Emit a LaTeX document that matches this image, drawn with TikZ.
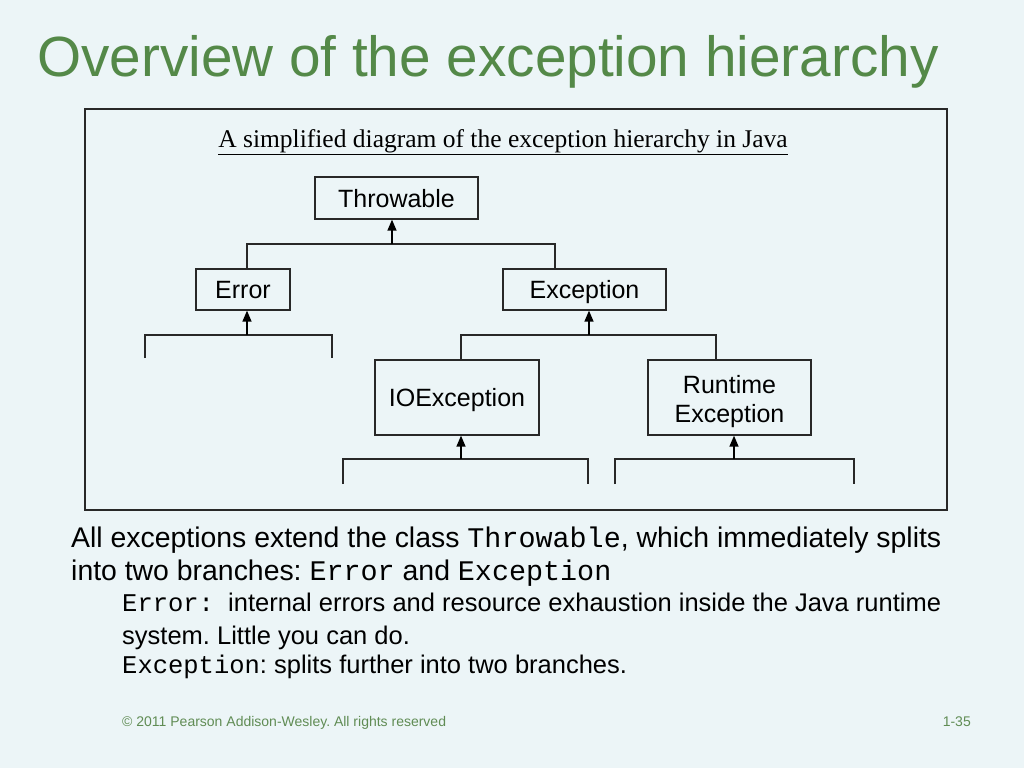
\documentclass[tikz,border=0pt]{standalone}
\usepackage{fontspec}
\setmainfont{Liberation Sans}
\setmonofont{Liberation Mono}
\newfontfamily\tms{Liberation Serif}
\usetikzlibrary{arrows.meta}
\definecolor{bg}{RGB}{236,245,247}
\definecolor{titlegreen}{RGB}{84,137,72}
\definecolor{footgreen}{RGB}{96,140,84}
\definecolor{ink}{RGB}{40,40,40}
\frenchspacing
\tikzset{
  cls/.style={draw=ink, line width=1.3pt, fill=none, inner sep=0pt, align=center,
    font=\fontsize{25}{29}\selectfont, text=black, text height=18pt, text depth=0pt},
  ln/.style={draw=ink, line width=1.4pt},
  arr/.style={draw=black, line width=1.4pt, -{Triangle[length=11pt,width=9pt]}},
  txt/.style={anchor=base west, inner sep=0pt, text=black},
}
\begin{document}
\begin{tikzpicture}[x=1pt,y=-1pt]
\fill[bg] (0,0) rectangle (1024,768);
\useasboundingbox (0,0) rectangle (1024,768);

% title
\node[anchor=base west, inner sep=0pt, text=titlegreen, font=\fontsize{56.7}{60}\selectfont] (title) at (37,77) {Overview of the exception hierarchy};

% frame
\node[draw=ink, line width=1.4pt, minimum width=862pt, minimum height=401pt, inner sep=0pt] (frame) at (516,309.5) {};

% caption
\node[anchor=base, inner sep=0pt, font=\tms\fontsize{25.5}{30}\selectfont] (cap) at (503,147) {\underline{A simplified diagram of the exception hierarchy in Java}};

% classes
\node[cls, minimum width=163pt, minimum height=42pt] (thr) at (396.5,198) {Throwable};
\node[cls, minimum width=94pt, minimum height=41pt] (err) at (243,289.5) {Error};
\node[cls, minimum width=163pt, minimum height=41pt] (exc) at (584.5,289.5) {Exception};
\node[cls, minimum width=164pt, minimum height=75pt] (ioe) at (457,397.5) {IOException};
\node[cls, minimum width=163pt, minimum height=75pt, text height=49pt, text depth=0pt] (rte) at (729.5,397.5) {Runtime\\Exception};

% Throwable branch
\coordinate (ta) at (247,244); \coordinate (tb) at (555,244); \coordinate (tm) at (392,244);
\draw[ln] (err.north -| ta) -- (ta) -- (tb) -- (exc.north -| tb);
\draw[arr] (tm) -- (thr.south -| tm);

% Error branch
\coordinate (ea) at (145,335); \coordinate (eb) at (332,335); \coordinate (em) at (247,335);
\coordinate (ea0) at (145,358); \coordinate (eb0) at (332,358);
\draw[ln] (ea0) -- (ea) -- (eb) -- (eb0);
\draw[arr] (em) -- (err.south -| em);

% Exception branch
\coordinate (xa) at (461,335); \coordinate (xb) at (716,335); \coordinate (xm) at (589,335);
\draw[ln] (ioe.north -| xa) -- (xa) -- (xb) -- (rte.north -| xb);
\draw[arr] (xm) -- (exc.south -| xm);

% IOException branch
\coordinate (ia) at (343,459); \coordinate (ib) at (588,459); \coordinate (im) at (461,459);
\coordinate (ia0) at (343,484); \coordinate (ib0) at (588,484);
\draw[ln] (ia0) -- (ia) -- (ib) -- (ib0);
\draw[arr] (im) -- (ioe.south -| im);

% RuntimeException branch
\coordinate (ra) at (615,459); \coordinate (rb) at (854,459); \coordinate (rm) at (734,459);
\coordinate (ra0) at (615,484); \coordinate (rb0) at (854,484);
\draw[ln] (ra0) -- (ra) -- (rb) -- (rb0);
\draw[arr] (rm) -- (rte.south -| rm);

% body text
\node[txt, font=\fontsize{28.4}{34}\selectfont] (l1) at (71,547) {All exceptions extend the class \texttt{Throwable}, which immediately splits};
\node[txt, font=\fontsize{28.4}{34}\selectfont] (l2) at (71,580) {into two branches: \texttt{Error} and \texttt{Exception}};
\node[txt, font=\fontsize{25.5}{30}\selectfont] (l3) at (122,611) {\texttt{Error:}\ \ internal errors and resource exhaustion inside the Java runtime};
\node[txt, font=\fontsize{25.5}{30}\selectfont] (l4) at (122,644) {system. Little you can do.};
\node[txt, font=\fontsize{25.5}{30}\selectfont] (l5) at (122,673) {\texttt{Exception}: splits further into two branches.};

% footer
\node[anchor=base west, inner sep=0pt, text=footgreen, font=\fontsize{14}{16}\selectfont] (foot) at (122,726) {© 2011 Pearson Addison-Wesley. All rights reserved};
\node[anchor=base east, inner sep=0pt, text=footgreen, font=\fontsize{14}{16}\selectfont] (pg) at (971,726) {1-35};
\end{tikzpicture}
\end{document}
